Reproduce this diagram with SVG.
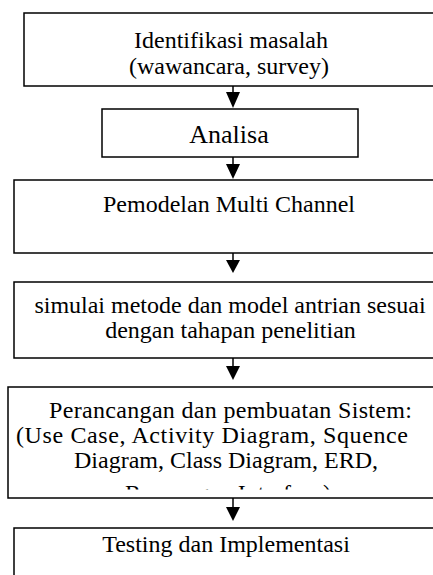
<svg xmlns="http://www.w3.org/2000/svg" width="433" height="575" viewBox="0 0 433 575">
<style>
.box{fill:#fff;stroke:#000;stroke-width:1.5}
.t{font-family:"Liberation Serif","Times New Roman",serif;font-size:24px;fill:#000;text-anchor:middle}
.ln{stroke:#000;stroke-width:1.5}
.hd{fill:#000}
</style>
<defs>
<clipPath id="cut"><rect x="0" y="483" width="433" height="6.5"/></clipPath>
</defs>
<g id="n1">
<rect class="box" x="24" y="13" width="420" height="73"/>
<text class="t" x="231" y="48">Identifikasi masalah</text>
<text class="t" x="229" y="74">(wawancara, survey)</text>
</g>
<g id="n2">
<rect class="box" x="102" y="109" width="256" height="48"/>
<text class="t" x="229" y="143" style="font-size:26px">Analisa</text>
</g>
<g id="n3">
<rect class="box" x="14" y="180" width="432" height="73"/>
<text class="t" x="229" y="212">Pemodelan Multi Channel</text>
</g>
<g id="n4">
<rect class="box" x="14" y="282" width="432" height="76"/>
<text class="t" x="230" y="313">simulai metode dan model antrian sesuai</text>
<text class="t" x="230.5" y="338">dengan tahapan penelitian</text>
</g>
<g id="n5">
<rect class="box" x="8" y="387" width="440" height="111"/>
<text class="t" x="49" y="418" style="text-anchor:start" textLength="363" lengthAdjust="spacing">Perancangan dan pembuatan Sistem:</text>
<text class="t" x="16" y="443" style="text-anchor:start" textLength="392" lengthAdjust="spacing">(Use Case, Activity Diagram, Squence</text>
<text class="t" x="74" y="468" style="text-anchor:start" textLength="304" lengthAdjust="spacing">Diagram, Class Diagram, ERD,</text>
<text class="t" x="228" y="501" clip-path="url(#cut)">Rancangan Interface)</text>
</g>
<g id="n6">
<rect class="box" x="14" y="528" width="432" height="60"/>
<text class="t" x="226" y="552">Testing dan Implementasi</text>
</g>
<g id="connectors">
<line class="ln" x1="233" y1="86" x2="233" y2="95"/>
<polygon class="hd" points="226,92 240,92 233,108"/>
<line class="ln" x1="233" y1="157" x2="233" y2="166"/>
<polygon class="hd" points="226,164 240,164 233,179"/>
<line class="ln" x1="233" y1="253" x2="233" y2="262"/>
<polygon class="hd" points="226,260 240,260 233,273"/>
<line class="ln" x1="233" y1="358" x2="233" y2="368"/>
<polygon class="hd" points="226,366 240,366 233,380"/>
<line class="ln" x1="233" y1="498" x2="233" y2="509"/>
<polygon class="hd" points="226,507 240,507 233,521"/>
</g>
</svg>
